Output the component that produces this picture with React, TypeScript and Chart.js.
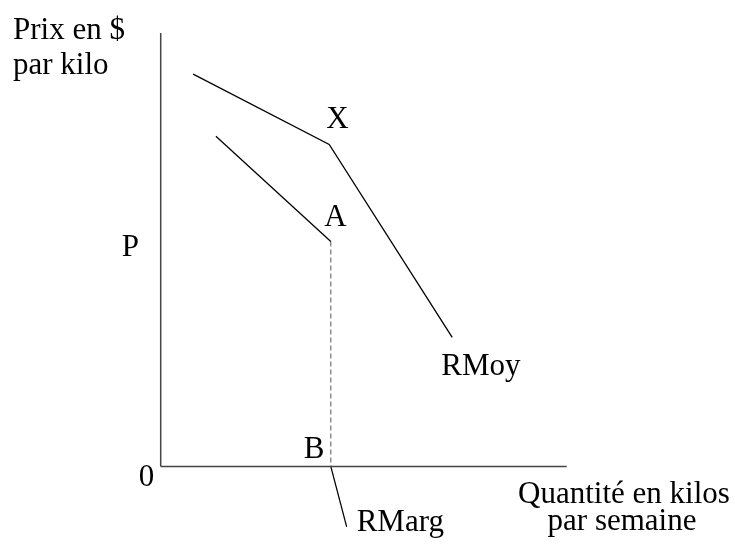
import React, { useEffect, useRef } from "react";
import { Chart, registerables } from "chart.js";

Chart.register(...registerables);

// Data in abstract units (quantity 0..10, price 0..10)
const rmoyQ = [0.8, 4.15, 7.18];
const rmoyP = [9.05, 7.43, 2.98];
const rmargQ = [1.36, 4.19];
const rmargP = [7.62, 5.19];
const dashQ = [4.19, 4.19];
const dashP = [5.19, 0];
const leaderQ = [4.19, 4.58];
const leaderP = [0, -1.39];
const xAxisQ = [0, 10];
const xAxisP = [0, 0];
const yAxisQ = [0, 0];
const yAxisP = [0, 10];

const X_MIN = -3.958;
const X_MAX = 14.145;
const Y_MIN = -1.811;
const Y_MAX = 10.761;

const FONT = '31px "Liberation Serif", "Times New Roman", serif';

function pts(q: number[], p: number[]) {
  return q.map((v, i) => ({ x: v, y: p[i] }));
}

const labelsPlugin = {
  id: "econLabels",
  afterDraw(chart: any) {
    const ctx = chart.ctx;
    const xs = chart.scales.x;
    const ys = chart.scales.y;
    const px = (v: number) => xs.getPixelForValue(v);
    const py = (v: number) => ys.getPixelForValue(v);
    ctx.save();
    ctx.font = FONT;
    ctx.fillStyle = "#000";
    ctx.textBaseline = "alphabetic";
    ctx.textAlign = "left";
    const ox = px(0);
    const oy = py(0);
    // y-axis title
    ctx.fillText("Prix en $", 13, 39);
    ctx.fillText("par kilo", 13, 74);
    // X at kink
    ctx.fillText("X", px(rmoyQ[1]) - 3, py(rmoyP[1]) - 16);
    // A at end of RMarg
    ctx.fillText("A", px(rmargQ[1]) - 6.5, py(rmargP[1]) - 15.5);
    // P on y axis
    ctx.fillText("P", ox - 39, py(rmargP[1]) + 14.5);
    // 0 at origin
    ctx.fillText("0", ox - 22, oy + 20);
    // B on x axis
    ctx.fillText("B", px(dashQ[0]) - 27, oy - 8.5);
    // RMoy label
    ctx.fillText("RMoy", px(rmoyQ[2]) - 11, py(rmoyP[2]) + 37.5);
    // RMarg label
    ctx.fillText("RMarg", px(leaderQ[1]) + 10, 531);
    // x-axis title
    ctx.textAlign = "center";
    ctx.fillText("Quantité en kilos", 624, 503);
    ctx.fillText("par semaine", 622, 530);
    ctx.restore();
  },
};

export default function App() {
  const ref = useRef<HTMLCanvasElement>(null);
  useEffect(() => {
    if (!ref.current) return;
    const chart = new Chart(ref.current, {
      type: "scatter",
      data: {
        datasets: [
          {
            data: pts(yAxisQ, yAxisP),
            showLine: true,
            borderColor: "#444",
            borderWidth: 1.5,
            pointRadius: 0,
          },
          {
            data: pts(xAxisQ, xAxisP),
            showLine: true,
            borderColor: "#444",
            borderWidth: 1.5,
            pointRadius: 0,
          },
          {
            data: pts(rmoyQ, rmoyP),
            showLine: true,
            borderColor: "#000",
            borderWidth: 1.3,
            pointRadius: 0,
          },
          {
            data: pts(rmargQ, rmargP),
            showLine: true,
            borderColor: "#000",
            borderWidth: 1.3,
            pointRadius: 0,
          },
          {
            data: pts(dashQ, dashP),
            showLine: true,
            borderColor: "#555",
            borderWidth: 1,
            borderDash: [5, 3],
            pointRadius: 0,
          },
          {
            data: pts(leaderQ, leaderP),
            showLine: true,
            borderColor: "#000",
            borderWidth: 1.2,
            pointRadius: 0,
          },
        ],
      },
      options: {
        animation: false,
        responsive: false,
        layout: { padding: 0 },
        plugins: {
          legend: { display: false },
          tooltip: { enabled: false },
        },
        scales: {
          x: { type: "linear", min: X_MIN, max: X_MAX, display: false },
          y: { type: "linear", min: Y_MIN, max: Y_MAX, display: false },
        },
      },
      plugins: [labelsPlugin],
    });
    return () => chart.destroy();
  }, []);
  return (
    <div style={{ position: "fixed", left: 0, top: 0, width: 735, height: 545, background: "#fff" }}>
      <canvas ref={ref} width={735} height={545} />
    </div>
  );
}
